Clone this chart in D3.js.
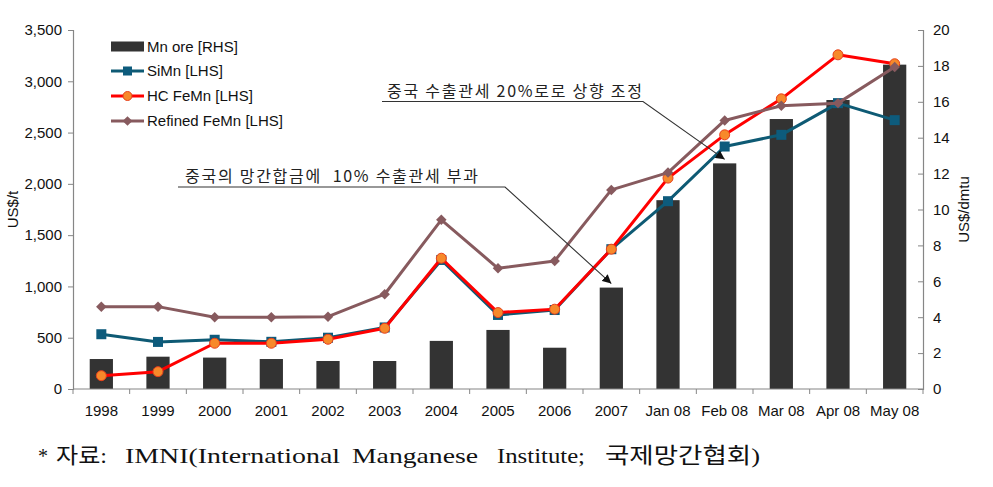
<!DOCTYPE html>
<html>
<head>
<meta charset="utf-8">
<script src="https://cdn.jsdelivr.net/npm/d3@7"></script>
<style>
  body { margin: 0; background: #fff; }
  svg { display: block; font-family: "Liberation Sans", Arial, sans-serif; }
</style>
</head>
<body>
<svg id="chart" width="993" height="487"></svg>
<script>
// ---- data ----
const categories = ["1998","1999","2000","2001","2002","2003","2004","2005","2006","2007","Jan 08","Feb 08","Mar 08","Apr 08","May 08"];
const mnOre      = [1.67, 1.8, 1.75, 1.67, 1.56, 1.56, 2.68, 3.29, 2.3, 5.65, 10.52, 12.57, 15.04, 16.1, 18.07];
const siMn       = [534, 459, 480, 460, 500, 600, 1258, 722, 770, 1363, 1831, 2364, 2478, 2787, 2621];
const hcFeMn     = [130, 169, 446, 446, 485, 592, 1275, 745, 778, 1363, 2056, 2478, 2829, 3258, 3171];
const refinedFeMn= [803, 803, 699, 699, 705, 924, 1649, 1177, 1249, 1941, 2110, 2618, 2761, 2787, 3139];
const leftTicks  = [0, 500, 1000, 1500, 2000, 2500, 3000, 3500];
const rightTicks = [0, 2, 4, 6, 8, 10, 12, 14, 16, 18, 20];
const seriesNames = ["Mn ore [RHS]", "SiMn [LHS]", "HC FeMn [LHS]", "Refined FeMn [LHS]"];
const annot1 = "중국의 망간합금에  10% 수출관세 부과";
const annot2 = "중국 수출관세 20%로로 상향 조정";
const captionWords = ["*", "자료:", "IMNI(International", "Manganese", "Institute;", "국제망간협회)"];

// ---- layout ----
const W = 993, H = 487;
const m = { left: 73, right: 70, top: 30, bottom: 98 };
const iw = W - m.left - m.right, ih = H - m.top - m.bottom;
const svg = d3.select("#chart");
const g = svg.append("g").attr("transform", `translate(${m.left},${m.top})`);

const x = d3.scaleBand().domain(categories).range([0, iw]).padding(0);
const yL = d3.scaleLinear().domain([0, 3500]).range([ih, 0]);
const yR = d3.scaleLinear().domain([0, 20]).range([ih, 0]);
const cx = c => x(c) + x.bandwidth() / 2;
const barW = x.bandwidth() * 0.41;

const COL = { bar: "#333333", si: "#0e5a74", siM: "#0d5b7c", hc: "#ff0000", hcM: "#f7892a", ref: "#875a5e", axis: "#868686" };
const SANS = "'Liberation Sans', Arial, sans-serif";

// bars
g.selectAll(".bar").data(categories).enter().append("rect")
  .attr("x", (c) => cx(c) - barW / 2)
  .attr("y", (c, i) => yR(mnOre[i]))
  .attr("width", barW)
  .attr("height", (c, i) => ih - yR(mnOre[i]))
  .attr("fill", COL.bar);

// axes
const axisL = g.append("g").call(d3.axisLeft(yL).tickValues(leftTicks).tickFormat(d3.format(",")).tickSize(5).tickPadding(6));
const axisR = g.append("g").attr("transform", `translate(${iw},0)`)
  .call(d3.axisRight(yR).tickValues(rightTicks).tickSize(-5).tickPadding(10));
const axisB = g.append("g").attr("transform", `translate(0,${ih})`)
  .call(d3.axisBottom(x).tickSize(0).tickPadding(16));
// x boundary ticks
const bounds = categories.map(c => x(c)).concat([iw]);
g.append("g").selectAll("line").data(bounds).enter().append("line")
  .attr("x1", d => d).attr("x2", d => d).attr("y1", ih).attr("y2", ih + 5)
  .attr("stroke", COL.axis);
[axisL, axisR, axisB].forEach(a => {
  a.attr("font-family", null).attr("font-size", null);
  a.select(".domain").attr("stroke", COL.axis).attr("stroke-width", 1.2);
  a.selectAll(".tick line").attr("stroke", COL.axis);
  a.selectAll("text").style("font-size", "15px").style("font-family", SANS).attr("fill", "#111");
});
axisB.select(".domain").attr("d", `M0,0H${iw}`);

// axis titles
svg.append("text").attr("transform", `translate(18,${m.top + yL(1750)}) rotate(-90)`)
  .attr("text-anchor", "middle").style("font-size", "15px").attr("fill", "#111").text("US$/t");
svg.append("text").attr("transform", `translate(969,${m.top + yR(10)}) rotate(-90)`)
  .attr("text-anchor", "middle").style("font-size", "15px").attr("fill", "#111").text("US$/dmtu");

// lines
function drawLine(vals, color, width) {
  g.append("path").datum(vals)
    .attr("d", d3.line().x((d, i) => cx(categories[i])).y(d => yL(d)))
    .attr("fill", "none").attr("stroke", color).attr("stroke-width", width)
    .attr("stroke-linejoin", "round");
}
// SiMn
drawLine(siMn, COL.si, 3);
g.selectAll(".sq").data(siMn).enter().append("rect")
  .attr("x", (d, i) => cx(categories[i]) - 5).attr("y", d => yL(d) - 5)
  .attr("width", 10).attr("height", 10).attr("fill", COL.siM);
// HC FeMn
drawLine(hcFeMn, COL.hc, 3);
g.selectAll(".ci").data(hcFeMn).enter().append("circle")
  .attr("cx", (d, i) => cx(categories[i])).attr("cy", d => yL(d)).attr("r", 5)
  .attr("fill", COL.hcM).attr("stroke", "#e8401c").attr("stroke-width", 1);
// Refined FeMn
drawLine(refinedFeMn, COL.ref, 3);
const diamond = d3.symbol().type(d3.symbolDiamond2).size(70);
g.selectAll(".di").data(refinedFeMn).enter().append("path")
  .attr("d", diamond)
  .attr("transform", (d, i) => `translate(${cx(categories[i])},${yL(d)})`)
  .attr("fill", COL.ref);

// legend
const lg = svg.append("g");
const lx = 111, lRows = [46.5, 71, 96, 121];
lg.append("rect").attr("x", lx).attr("y", lRows[0] - 5).attr("width", 33).attr("height", 10).attr("fill", COL.bar);
lg.append("line").attr("x1", lx).attr("x2", lx + 33).attr("y1", lRows[1]).attr("y2", lRows[1]).attr("stroke", COL.si).attr("stroke-width", 3);
lg.append("rect").attr("x", lx + 12).attr("y", lRows[1] - 4.5).attr("width", 9).attr("height", 9).attr("fill", COL.siM);
lg.append("line").attr("x1", lx).attr("x2", lx + 33).attr("y1", lRows[2]).attr("y2", lRows[2]).attr("stroke", COL.hc).attr("stroke-width", 3);
lg.append("circle").attr("cx", lx + 16.5).attr("cy", lRows[2]).attr("r", 4.5).attr("fill", COL.hcM).attr("stroke", "#e8401c");
lg.append("line").attr("x1", lx).attr("x2", lx + 33).attr("y1", lRows[3]).attr("y2", lRows[3]).attr("stroke", COL.ref).attr("stroke-width", 3);
lg.append("path").attr("d", d3.symbol().type(d3.symbolDiamond2).size(60)).attr("transform", `translate(${lx + 16.5},${lRows[3]})`).attr("fill", COL.ref);
seriesNames.forEach((s, i) => {
  lg.append("text").attr("x", lx + 36).attr("y", lRows[i]).attr("dy", "0.36em")
    .style("font-size", "15px").attr("fill", "#111").text(s);
});

// annotations
const defs = svg.append("defs");
defs.append("marker").attr("id", "arr").attr("viewBox", "0 0 10 10").attr("refX", 10).attr("refY", 5)
  .attr("markerWidth", 9).attr("markerHeight", 9).attr("markerUnits", "userSpaceOnUse").attr("orient", "auto")
  .append("path").attr("d", "M0,0L10,5L0,10Z").attr("fill", "#111");

function annotation(txt, tx, tw, baseY, uX0, uX1, tipCat, tipIdx) {
  svg.append("text").attr("x", tx).attr("y", baseY)
    .style("font-family", "'Noto Sans CJK KR', sans-serif").style("font-size", "16px")
    .style("white-space", "pre").attr("fill", "#222")
    .attr("textLength", tw).attr("lengthAdjust", "spacing").text(txt);
  const tipX = m.left + cx(tipCat), tipY = m.top + yR(mnOre[tipIdx]) - 4;
  svg.append("path").attr("d", `M${uX0},${baseY + 5}H${uX1}L${tipX},${tipY}`)
    .attr("fill", "none").attr("stroke", "#333").attr("stroke-width", 1.1)
    .attr("marker-end", "url(#arr)");
}
annotation(annot1, 185, 293, 182, 178, 505, "2007", 9);
annotation(annot2, 387, 255, 96.5, 382, 643, "Feb 08", 11);

// caption (justified words, as in the source document)
const capX = [38, 56, 125, 352, 497, 605];
const capW = [10, 51, 215, 126, 88, 155];
const cap = svg.append("text").attr("y", 463)
  .style("font-family", "'Liberation Serif', 'Times New Roman', 'Noto Sans CJK KR', serif")
  .style("font-size", "22px").attr("fill", "#111");
captionWords.forEach((w, i) => {
  cap.append("tspan").attr("x", capX[i]).attr("textLength", capW[i])
    .attr("lengthAdjust", "spacingAndGlyphs").text(w);
});
</script>
</body>
</html>
